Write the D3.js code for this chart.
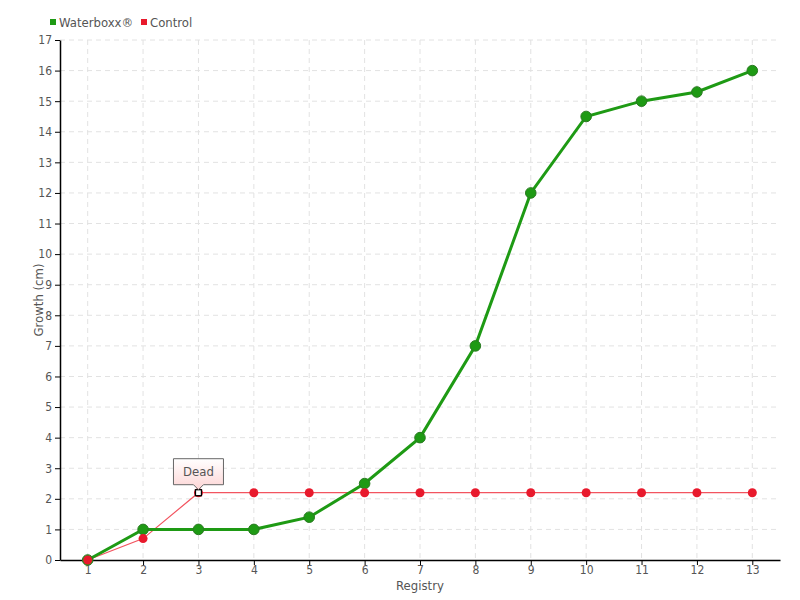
<!DOCTYPE html>
<html>
<head>
<meta charset="utf-8">
<script src="https://cdn.jsdelivr.net/npm/d3@7"></script>
<style>
  body { margin: 0; background: #fff; }
  text { font-family: "DejaVu Sans Condensed", "Liberation Sans Narrow", sans-serif; fill: #555; }
</style>
</head>
<body>
<svg id="chart" width="800" height="600"></svg>
<script>
  var registry = ['1', '2', '3', '4', '5', '6', '7', '8', '9', '10', '11', '12', '13'];
  var waterboxx = [0, 1, 1, 1, 1.4, 2.5, 4, 7, 12, 14.5, 15, 15.3, 16];
  var control = [0, 0.7, 2.2, 2.2, 2.2, 2.2, 2.2, 2.2, 2.2, 2.2, 2.2, 2.2, 2.2];
  var yTicks = d3.range(0, 18);
  var deadIndex = 2;

  var margin = {top: 40, right: 20, bottom: 40, left: 60},
      width = 800 - margin.left - margin.right,
      height = 600 - margin.top - margin.bottom;

  var svg = d3.select('#chart');
  var g = svg.append('g').attr('transform', 'translate(' + margin.left + ',' + margin.top + ')');

  var x = d3.scalePoint().domain(registry).range([0, width]).padding(0.5);
  var y = d3.scaleLinear().domain([0, 17]).range([height, 0]);

  // Grid lines
  g.selectAll('.hgrid').data(yTicks.slice(1))
    .enter().append('line')
      .attr('x1', 0).attr('x2', width)
      .attr('y1', function(d) { return y(d); })
      .attr('y2', function(d) { return y(d); })
      .attr('stroke', '#e2e2e2').attr('stroke-dasharray', '5,4');
  g.selectAll('.vgrid').data(registry)
    .enter().append('line')
      .attr('x1', function(d) { return x(d); })
      .attr('x2', function(d) { return x(d); })
      .attr('y1', 0).attr('y2', height)
      .attr('stroke', '#e2e2e2').attr('stroke-dasharray', '5,4');

  // Axes
  var xAxis = g.append('g').attr('transform', 'translate(0,' + height + ')')
    .call(d3.axisBottom(x).tickSize(5).tickSizeOuter(0).tickPadding(0));
  var yAxis = g.append('g')
    .call(d3.axisLeft(y).tickValues(yTicks).tickFormat(d3.format('d')).tickSize(5).tickSizeOuter(0));
  [xAxis, yAxis].forEach(function(a) {
    a.select('.domain').attr('stroke', '#000').attr('stroke-width', 1.5);
    a.selectAll('.tick line').attr('stroke', '#000');
    a.selectAll('.tick text').style('font-size', '12px').attr('fill', '#555');
  });

  // Axis titles
  svg.append('text')
    .attr('x', margin.left + width / 2).attr('y', 590)
    .attr('text-anchor', 'middle').style('font-size', '13px')
    .text('Registry');
  svg.append('text')
    .attr('transform', 'translate(43,' + (margin.top + height / 2) + ') rotate(-90)')
    .attr('text-anchor', 'middle').style('font-size', '13px')
    .text('Growth (cm)');

  var line = d3.line()
    .x(function(d, i) { return x(registry[i]); })
    .y(function(d) { return y(d); });

  // Control series
  g.append('path').datum(control)
    .attr('d', line).attr('fill', 'none')
    .attr('stroke', '#f2545f').attr('stroke-width', 1.2);

  // Waterboxx series
  g.append('path').datum(waterboxx)
    .attr('d', line).attr('fill', 'none')
    .attr('stroke', '#1e9a14').attr('stroke-width', 3);
  g.selectAll('.wdot').data(waterboxx)
    .enter().append('circle')
      .attr('cx', function(d, i) { return x(registry[i]); })
      .attr('cy', function(d) { return y(d); })
      .attr('r', 5.3)
      .attr('fill', '#1e9a14').attr('stroke', '#2a7a22').attr('stroke-width', 1);

  // Control dots
  g.selectAll('.cdot').data(control)
    .enter().append('circle')
      .attr('cx', function(d, i) { return x(registry[i]); })
      .attr('cy', function(d) { return y(d); })
      .attr('r', 4.5)
      .attr('fill', '#e8192c');

  // Dead marker
  var dx = x(registry[deadIndex]), dy = y(control[deadIndex]);
  g.append('rect').attr('x', dx - 3).attr('y', dy - 3).attr('width', 6).attr('height', 6)
    .attr('fill', '#fff').attr('stroke', '#000').attr('stroke-width', 1.3);

  // Tooltip "Dead"
  var defs = svg.append('defs');
  var grad = defs.append('linearGradient').attr('id', 'tipGrad')
    .attr('x1', 0).attr('y1', 0).attr('x2', 0).attr('y2', 1);
  grad.append('stop').attr('offset', '0%').attr('stop-color', '#ffffff');
  grad.append('stop').attr('offset', '100%').attr('stop-color', '#fdd5d5');
  var bw = 50, bh = 26, by = dy - 34;
  var tip = 'M' + (dx - bw / 2) + ',' + by +
    'h' + bw + 'v' + bh + 'h' + (-(bw / 2 - 5)) + 'l-5,5l-5,-5' +
    'h' + (-(bw / 2 - 5)) + 'z';
  g.append('path').attr('d', tip)
    .attr('fill', 'url(#tipGrad)').attr('stroke', '#666').attr('stroke-width', 1);
  g.append('text').attr('x', dx).attr('y', by + 17)
    .attr('text-anchor', 'middle').style('font-size', '13px')
    .text('Dead');

  // Legend
  var legend = [{name: 'Waterboxx®', color: '#1e9a14', x: 50}, {name: 'Control', color: '#e8192c', x: 141}];
  legend.forEach(function(l) {
    svg.append('rect').attr('x', l.x).attr('y', 19).attr('width', 6).attr('height', 6).attr('fill', l.color);
    svg.append('text').attr('x', l.x + 9).attr('y', 27).style('font-size', '13px').text(l.name);
  });
</script>
</body>
</html>
